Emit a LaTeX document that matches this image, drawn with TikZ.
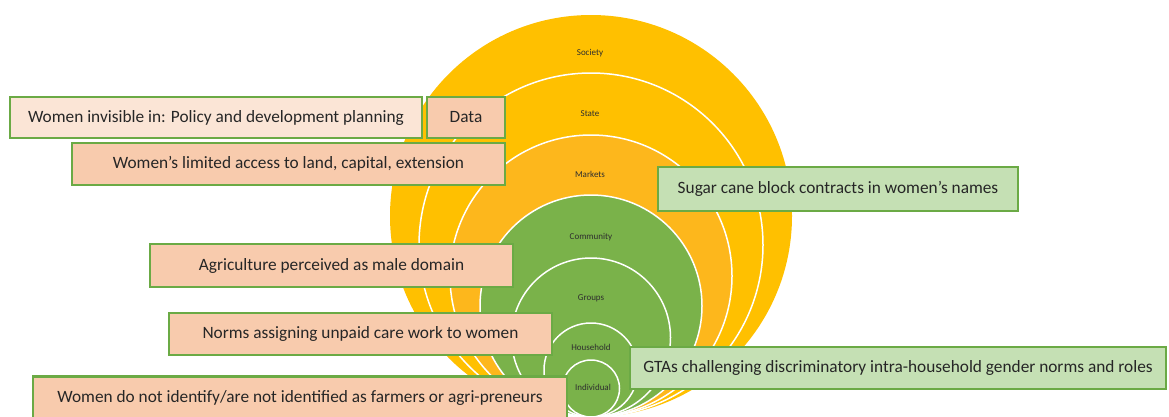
\documentclass[tikz,border=0pt]{standalone}
\usepackage{fontspec}
\setmainfont{Carlito}
\definecolor{gold}{HTML}{FFC000}
\definecolor{market}{HTML}{FDB71C}
\definecolor{leaf}{HTML}{7AB24A}
\definecolor{peach}{HTML}{F8CBAD}
\definecolor{lightpeach}{HTML}{FBE5D6}
\definecolor{sage}{HTML}{C5E0B4}
\definecolor{rim}{HTML}{6BAA45}
\definecolor{lbl}{HTML}{2E2E2E}
\tikzset{
  ring/.style={draw=white, line width=1.5pt},
  lvl/.style={font=\fontsize{9}{10}\selectfont, text=lbl, inner sep=0pt},
  boxbase/.style={draw=rim, line width=2.4pt, inner sep=0pt, align=center,
    font=\fontsize{17.3}{19}\selectfont, text=black!85},
  barrier/.style={boxbase, fill=peach},
  barrierlight/.style={boxbase, fill=lightpeach},
  enabler/.style={boxbase, fill=sage},
}
\begin{document}
\begin{tikzpicture}[x=1pt, y=-1pt]
\useasboundingbox (0,0) rectangle (1169,416);
% nested levels, all touching at the bottom point
\coordinate (base) at (591,417);
\fill[gold] ([yshift=201pt]base) circle[radius=201pt];
\filldraw[fill=gold, ring] ([yshift=172pt]base) circle[radius=172pt];
\filldraw[fill=market, ring] ([yshift=141pt]base) circle[radius=141pt];
\filldraw[fill=leaf, ring] ([yshift=111pt]base) circle[radius=111pt];
\filldraw[fill=leaf, ring] ([yshift=79.5pt]base) circle[radius=79.5pt];
\filldraw[fill=leaf, ring] ([yshift=47pt]base) circle[radius=47pt];
\filldraw[fill=leaf, ring] ([yshift=28.5pt]base) circle[radius=28.5pt];
% level labels
\node[lvl] (society) at (590,53) {Society};
\node[lvl] (state) at (590,114) {State};
\node[lvl] (markets) at (590,174) {Markets};
\node[lvl] (community) at (591,237) {Community};
\node[lvl] (groups) at (591,298) {Groups};
\node[lvl] (household) at (591,347) {Household};
\node[lvl] (individual) at (593,387) {Individual};
% barriers
\node[barrierlight, minimum width=412pt, minimum height=41pt] (invisible) at (216,117.5)
  {Women invisible in: Policy and development planning};
\node[barrier, minimum width=78pt, minimum height=41pt] (data) at (466,117.5) {Data};
\node[barrier, minimum width=433pt, minimum height=42pt] (access) at (288.5,164)
  {Women’s limited access to land, capital, extension};
\node[barrier, minimum width=363pt, minimum height=43pt] (agri) at (331.5,265.5)
  {Agriculture perceived as male domain};
\node[barrier, minimum width=383pt, minimum height=42pt] (care) at (360.5,334)
  {Norms assigning unpaid care work to women};
\node[barrier, minimum width=534pt, minimum height=42pt] (identity) at (300,397.5)
  {Women do not identify/are not identified as farmers or agri-preneurs};
% enablers
\node[enabler, minimum width=360pt, minimum height=44pt] (sugar) at (838,189)
  {Sugar cane block contracts in women’s names};
\node[enabler, minimum width=536pt, minimum height=42pt] (gta) at (898,368)
  {GTAs challenging discriminatory intra-household gender norms and roles};
\end{tikzpicture}
\end{document}
